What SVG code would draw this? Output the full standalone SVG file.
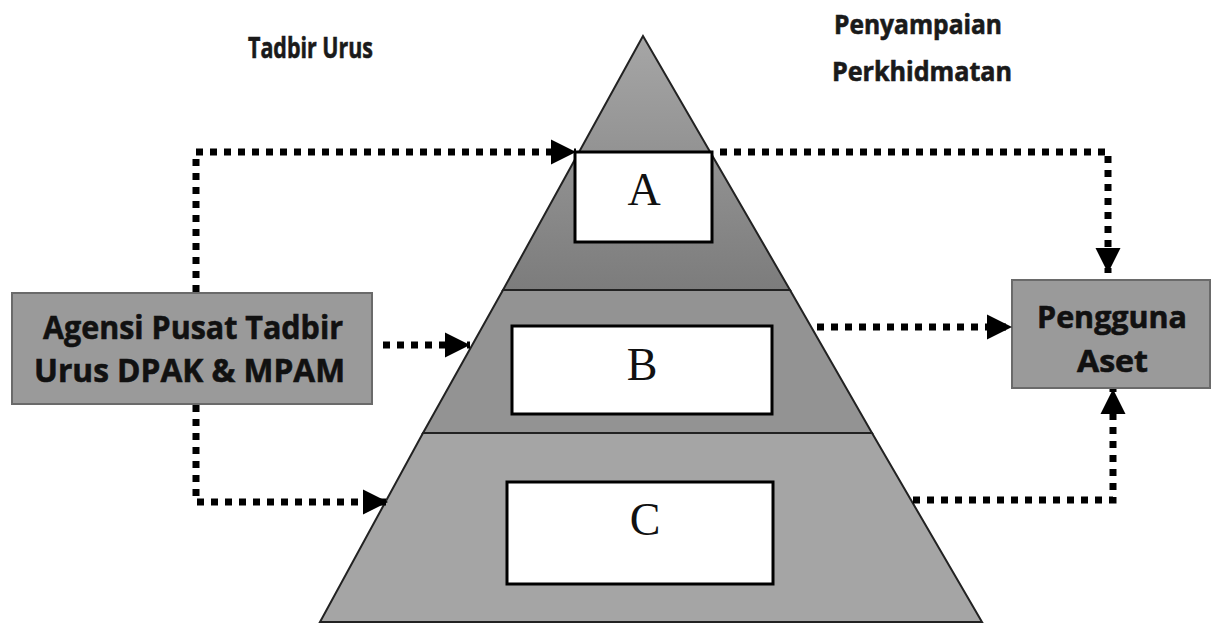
<svg xmlns="http://www.w3.org/2000/svg" width="1216" height="633" viewBox="0 0 1216 633">
<style>
.lbl{font-family:"Open Sans","Liberation Sans",sans-serif;font-weight:bold;fill:#1a1a1a;stroke:#1a1a1a;stroke-width:0.6;}
.nodetxt{font-family:"Open Sans","Liberation Sans",sans-serif;font-weight:bold;fill:#111;stroke:#111;stroke-width:0.6;}
.box{fill:#fff;stroke:#000;stroke-width:3;}
.letter{font-family:"Liberation Serif",serif;font-size:46px;fill:#111;text-anchor:middle;}
.dot{fill:none;stroke:#000;stroke-width:7;stroke-dasharray:7 7;}
</style>
<defs>
<marker id="arr" viewBox="0 0 10 10" refX="10" refY="5" markerWidth="3.6" markerHeight="3.6" markerUnits="strokeWidth" orient="auto">
<path d="M0,0 L10,5 L0,10 z" fill="#000"/>
</marker>
<linearGradient id="gTop" x1="0" y1="0" x2="0" y2="1">
<stop offset="0" stop-color="#a6a6a6"/>
<stop offset="1" stop-color="#7c7c7c"/>
</linearGradient>
</defs>
<text class="lbl" x="248" y="58" font-size="29" textLength="125" lengthAdjust="spacingAndGlyphs">Tadbir Urus</text>
<text class="lbl" x="834" y="34" font-size="26" textLength="168" lengthAdjust="spacingAndGlyphs">Penyampaian</text>
<text class="lbl" x="832" y="81" font-size="26" textLength="180" lengthAdjust="spacingAndGlyphs">Perkhidmatan</text>
<g id="pyramid">
<polygon points="643,36 503,290 790,290" fill="url(#gTop)" stroke="#222" stroke-width="2"/>
<polygon points="503,290 790,290 872,433 423,433" fill="#939393" stroke="#222" stroke-width="2"/>
<polygon points="423,433 872,433 982,622 320,622" fill="#a5a5a5" stroke="#222" stroke-width="2"/>
</g>
<g id="boxA"><rect class="box" x="575" y="152" width="137" height="90"/><text class="letter" x="644" y="205">A</text></g>
<g id="boxB"><rect class="box" x="512" y="326" width="260" height="88"/><text class="letter" x="642" y="380">B</text></g>
<g id="boxC"><rect class="box" x="507" y="482" width="266" height="102"/><text class="letter" x="645" y="535">C</text></g>
<g id="agensi">
<rect x="12" y="293" width="360" height="111" fill="#9a9a9a" stroke="#6a6a6a" stroke-width="2"/>
<text class="nodetxt" x="43" y="339" font-size="33" textLength="300" lengthAdjust="spacingAndGlyphs">Agensi Pusat Tadbir</text>
<text class="nodetxt" x="34" y="382" font-size="33" textLength="311" lengthAdjust="spacingAndGlyphs">Urus DPAK &amp; MPAM</text>
</g>
<g id="pengguna">
<rect x="1012" y="280" width="198" height="108" fill="#9a9a9a" stroke="#6a6a6a" stroke-width="2"/>
<text class="nodetxt" x="1037" y="328" font-size="30" textLength="150" lengthAdjust="spacingAndGlyphs">Pengguna</text>
<text class="nodetxt" x="1077" y="372" font-size="30" textLength="71" lengthAdjust="spacingAndGlyphs">Aset</text>
</g>
<g id="connectors">
<polyline class="dot" points="196,292 196,152 576,152" marker-end="url(#arr)"/>
<polyline class="dot" points="383,345 470,345" marker-end="url(#arr)"/>
<polyline class="dot" points="196,405 196,502 388,502" marker-end="url(#arr)"/>
<polyline class="dot" points="720,152 1108,152 1108,273" marker-end="url(#arr)"/>
<polyline class="dot" points="817,327 1012,327" marker-end="url(#arr)"/>
<polyline class="dot" points="913,500 1113,500 1113,389" marker-end="url(#arr)"/>
</g>
</svg>
